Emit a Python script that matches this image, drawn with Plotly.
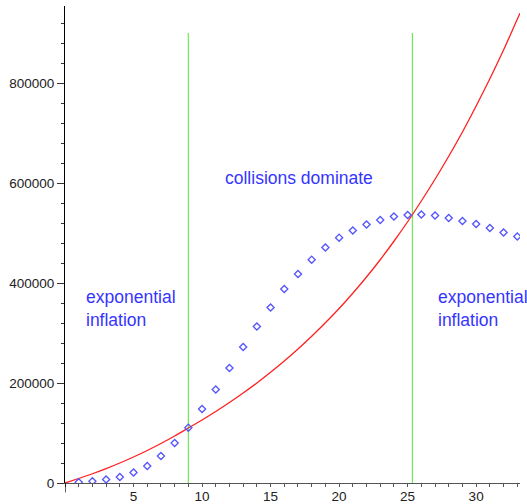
import plotly.graph_objects as go

# Red curve
red_x = [0, 1, 2, 3, 4, 5, 6, 7, 8, 9, 10, 11, 12, 13, 14, 15, 16, 17, 18, 19, 20,
         21, 22, 23, 24, 25, 26, 27, 28, 29, 30, 31, 32, 33, 33.2]
red_y = [0, 9000, 18500, 28800, 40000, 52000, 65000, 79000, 94000, 110000, 126000,
         143000, 161000, 180000, 200000, 221500, 244000, 268000, 293500, 320500, 349000,
         379500, 412000, 446500, 483500, 522500, 564000, 607500, 653500, 702000, 754000,
         808500, 866000, 927500, 939500]

# Blue diamond points
pts_x = list(range(1, 34))
pts_y = [1500, 3500, 7000, 12000, 21000, 34000, 54000, 80000, 110600, 148000,
         187000, 230000, 272000, 313000, 351000, 388000, 418000, 446600, 471000, 490600,
         505000, 517000, 526000, 533000, 536000, 537000, 535000, 530000, 524000, 518000,
         510000, 501000, 493000]

# Green vertical separators
sep_x = [9, 25.35]
sep_top = 900000

x_ticks = [5, 10, 15, 20, 25, 30]
y_ticks = [0, 200000, 400000, 600000, 800000]

labels = [
    (11.55, 610000, "collisions dominate"),
    (1.4, 350000, "exponential<br>inflation"),
    (27.05, 350000, "exponential<br>inflation"),
]

fig = go.Figure()

for sx in sep_x:
    fig.add_trace(go.Scatter(x=[sx, sx], y=[0, sep_top], mode="lines",
                             line=dict(color="#6fe85a", width=1.2),
                             hoverinfo="skip", showlegend=False))

fig.add_trace(go.Scatter(x=red_x, y=red_y, mode="lines",
                         line=dict(color="#ff2020", width=1.3, shape="spline", smoothing=0.8),
                         showlegend=False))

fig.add_trace(go.Scatter(x=pts_x, y=pts_y, mode="markers",
                         marker=dict(symbol="diamond-open", size=5.5, color="#5555ff",
                                     line=dict(width=1.3, color="#5555ff")),
                         showlegend=False))

for lx, ly, txt in labels:
    fig.add_annotation(x=lx, y=ly, text=txt, showarrow=False, xanchor="left",
                       yanchor="middle", align="left",
                       font=dict(family="Liberation Sans, Arial, sans-serif", size=17.5,
                                 color="#3535ff"))

# small extension of the vertical axis below the horizontal axis
fig.add_shape(type="line", xref="x", yref="paper", x0=0, x1=0, y0=-0.02, y1=0,
              line=dict(color="black", width=1.2))

fig.update_layout(
    width=527, height=504,
    margin=dict(l=65, r=7, t=6, b=21, autoexpand=False),
    paper_bgcolor="white", plot_bgcolor="white",
    showlegend=False,
    font=dict(family="Liberation Sans, Arial, sans-serif", size=13.5, color="#222222"),
)

fig.update_xaxes(
    range=[0, 33.2], tickvals=x_ticks, ticktext=[str(v) for v in x_ticks],
    automargin=False,
    showgrid=False, zeroline=False, showline=True, linecolor="#555555", linewidth=1.2,
    ticks="outside", ticklen=3, tickcolor="#555555", tickwidth=1,
    ticklabelstandoff=-2,
    minor=dict(dtick=1, tick0=0, ticks="outside", ticklen=3, tickcolor="#555555"),
)
fig.update_yaxes(
    range=[0, 954000], tickvals=y_ticks, ticktext=[str(v) for v in y_ticks],
    automargin=False,
    showgrid=False, zeroline=False, showline=True, linecolor="black", linewidth=1.2,
    ticks="outside", ticklen=7, tickcolor="#333333", tickwidth=1,
    minor=dict(dtick=40000, tick0=0, ticks="outside", ticklen=3, tickcolor="#333333"),
)

fig.write_html("out.html", config={"displayModeBar": False},
               post_script="document.body.style.margin='0px';document.body.style.overflow='hidden';")
